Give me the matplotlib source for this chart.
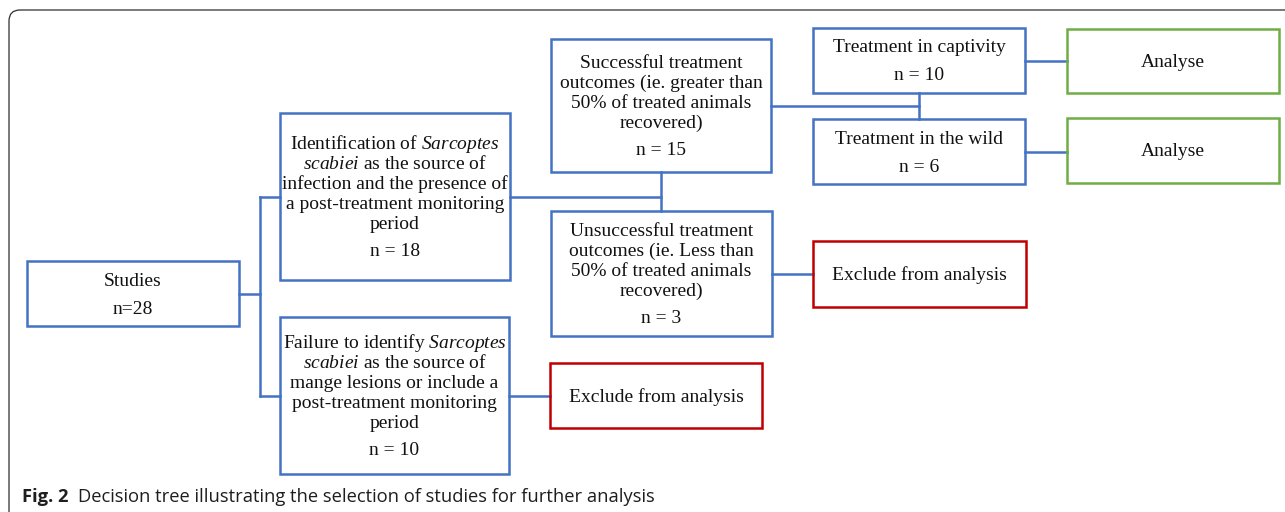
import matplotlib
matplotlib.use('Agg')
import matplotlib.pyplot as plt
from matplotlib.patches import Rectangle, FancyBboxPatch

plt.rcParams['mathtext.fontset'] = 'custom'
plt.rcParams['mathtext.rm'] = 'Liberation Serif'
plt.rcParams['mathtext.it'] = 'Liberation Serif:italic'

# ---- data: node texts and study counts ----
node_ids = ['studies', 'ident', 'failure', 'success', 'unsucc',
            'captivity', 'wild', 'analyse1', 'analyse2', 'excl_mid', 'excl_low']
node_lines = {
    'studies': ['Studies'],
    'ident': ['Identification of $\\mathit{Sarcoptes}$',
              '$\\mathit{scabiei}$ as the source of',
              'infection and the presence of',
              'a post-treatment monitoring',
              'period'],
    'failure': ['Failure to identify $\\mathit{Sarcoptes}$',
                '$\\mathit{scabiei}$ as the source of',
                'mange lesions or include a',
                'post-treatment monitoring',
                'period'],
    'success': ['Successful treatment',
                'outcomes (ie. greater than',
                '50% of treated animals',
                'recovered)'],
    'unsucc': ['Unsuccessful treatment',
               'outcomes (ie. Less than',
               '50% of treated animals',
               'recovered)'],
    'captivity': ['Treatment in captivity'],
    'wild': ['Treatment in the wild'],
    'analyse1': ['Analyse'],
    'analyse2': ['Analyse'],
    'excl_mid': ['Exclude from analysis'],
    'excl_low': ['Exclude from analysis'],
}
node_counts = {'studies': 28, 'ident': 18, 'failure': 10, 'success': 15,
               'unsucc': 3, 'captivity': 10, 'wild': 6}
caption_bold = 'Fig. 2'
caption_text = 'Decision tree illustrating the selection of studies for further analysis'

# ---- layout (pixel space, y downwards) ----
BLUE = '#4472c4'
GREEN = '#70ad47'
RED = '#c00000'
boxes = {
    'studies': (27, 261, 239, 326),
    'ident': (280, 113, 510, 280),
    'failure': (280, 317, 509, 474),
    'success': (551, 39, 771, 172),
    'unsucc': (551, 211, 772, 336),
    'captivity': (813, 28, 1025, 93),
    'wild': (813, 119, 1025, 184),
    'analyse1': (1067, 29, 1279, 93),
    'analyse2': (1067, 118, 1279, 183),
    'excl_mid': (813, 241, 1026, 307),
    'excl_low': (550, 363, 762, 428),
}
edge_colors = {'analyse1': GREEN, 'analyse2': GREEN, 'excl_mid': RED, 'excl_low': RED}
branch_edges = [('ident', 'success', 'unsucc'), ('success', 'captivity', 'wild')]
single_edges = [('captivity', 'analyse1'), ('wild', 'analyse2'),
                ('unsucc', 'excl_mid'), ('failure', 'excl_low')]

W, H = 1285, 512
LINE_STEP = 20
COUNT_GAP = 27
FONT = 'Liberation Serif'
FS = 14
LW = 1.8

fig = plt.figure(figsize=(W / 100, H / 100), dpi=100)
ax = fig.add_axes([0, 0, 1, 1])
ax.set_xlim(0, W)
ax.set_ylim(H, 0)
ax.axis('off')

# outer frame with rounded top-left corner (runs off the right and bottom)
ax.add_patch(FancyBboxPatch((9, 10), W + 40, H + 40,
                            boxstyle='round,pad=0,rounding_size=11',
                            fill=False, ec='#2e2e2e', lw=0.9))


def mid(n):
    x0, y0, x1, y1 = boxes[n]
    return (x0 + x1) / 2, (y0 + y1) / 2


for n in node_ids:
    x0, y0, x1, y1 = boxes[n]
    ax.add_patch(Rectangle((x0, y0), x1 - x0, y1 - y0, fill=False,
                           ec=edge_colors.get(n, BLUE), lw=LW, zorder=3))
    lines = list(node_lines[n])
    offs = [i * LINE_STEP for i in range(len(lines))]
    if n in node_counts:
        c = node_counts[n]
        lines.append(f'n={c}' if n == 'studies' else f'n = {c}')
        offs.append(offs[-1] + (28 if len(offs) == 1 else COUNT_GAP))
    cx, cy = mid(n)
    top = cy - offs[-1] / 2
    for s, o in zip(lines, offs):
        ax.text(cx, top + o + 6, s, ha='center', va='baseline',
                fontsize=FS, family=FONT, color='#111111', zorder=4)

# studies -> two children through a vertical spine
sx = (boxes['studies'][2] + boxes['ident'][0]) / 2
ys = [mid('ident')[1], mid('failure')[1]]
ax.plot([boxes['studies'][2], sx], [mid('studies')[1]] * 2, color=BLUE, lw=LW)
ax.plot([sx, sx], ys, color=BLUE, lw=LW)
for child, y in zip(['ident', 'failure'], ys):
    ax.plot([sx, boxes[child][0]], [y, y], color=BLUE, lw=LW)

# parent -> stacked pair of children
for parent, upper, lower in branch_edges:
    jx = mid(upper)[0]
    py = mid(parent)[1]
    ax.plot([boxes[parent][2], jx], [py, py], color=BLUE, lw=LW)
    ax.plot([jx, jx], [boxes[upper][3], boxes[lower][1]], color=BLUE, lw=LW)

for a, b in single_edges:
    y = mid(a)[1]
    ax.plot([boxes[a][2], boxes[b][0]], [y, y], color=BLUE, lw=LW)

# caption
t = ax.text(22, 502, caption_bold, fontsize=13.2, family='Open Sans',
            fontweight='bold', va='baseline', ha='left', color='#1e1e1e')
fig.canvas.draw()
bb = t.get_window_extent()
ax.text(bb.x1 + 9, 502, caption_text, fontsize=13.2, family='Open Sans',
        va='baseline', ha='left', color='#1e1e1e')

fig.savefig('out.png', dpi=100)
